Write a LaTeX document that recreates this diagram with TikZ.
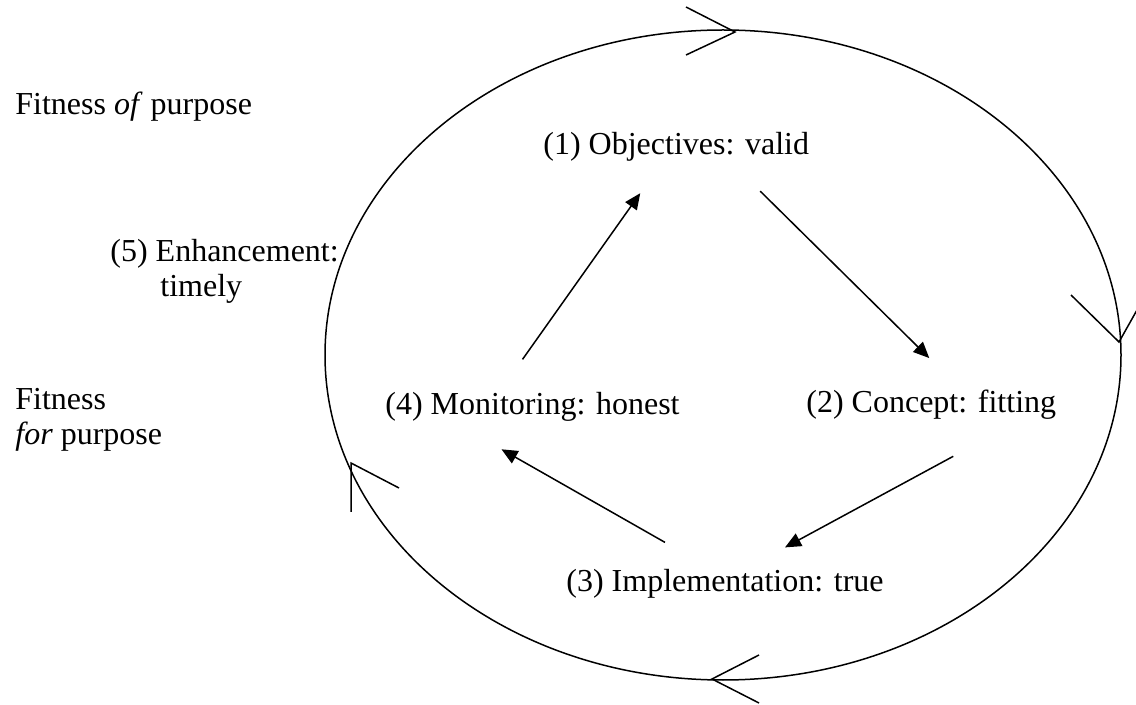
\documentclass[tikz,border=0pt]{standalone}
\usepackage{fontspec}
\setmainfont{Liberation Serif}
\usetikzlibrary{arrows.meta}

\begin{document}
\begin{tikzpicture}
[x=0.5pt,y=-0.5pt,
 lbl/.style={inner sep=0pt,anchor=base west,font=\fontsize{16}{17.5}\selectfont},
 flow/.style={-{Triangle[length=8pt,width=7pt]},line width=0.75pt},
 barb/.style={line width=0.75pt}]
\useasboundingbox (0,0) rectangle (1136,705);
\draw[line width=0.75pt] (723,355) ellipse [x radius=398,y radius=325];
% direction marks on the cycle
\coordinate (cw1) at (735,32);
\coordinate (cw2) at (1119,342);
\coordinate (cw3) at (712,679);
\coordinate (cw4) at (351,463);
\draw[barb] (cw1) ++(-49,-25) -- (cw1) -- ++(-49,23);
\draw[barb] (cw2) ++(-48,-47) -- (cw2) -- ++(27,-48);
\draw[barb] (cw3) ++(47,-24) -- (cw3) -- ++(47,24);
\draw[barb] (cw4) ++(0,49) -- (cw4) -- ++(48,25);
% labels (two-line ones sit on their last baseline)
\node[lbl] (fop) at (15,115) {Fitness \textit{of} purpose};
\node[lbl,align=left] (enh) at (110,297) {(5) Enhancement:\\\hspace*{25pt}timely};
\node[lbl,align=left] (ffp) at (15,445) {Fitness\\\textit{for} purpose};
\node[lbl] (obj) at (543,155) {(1) Objectives: valid};
\node[lbl] (con) at (806,413) {(2) Concept: fitting};
\node[lbl] (imp) at (566,592) {(3) Implementation: true};
\node[lbl] (mon) at (385,415) {(4) Monitoring: honest};
\draw[flow] ([shift={(-10,-33)}]mon.north) -- ([shift={(-36,31)}]obj.south);
\draw[flow] ([shift={(84,29)}]obj.south) -- ([shift={(-2,-32)}]con.north);
\draw[flow] ([shift={(22,36)}]con.south) -- ([shift={(60,-22)}]imp.north);
\draw[flow] ([shift={(-60,-27)}]imp.north) -- ([shift={(-31,27)}]mon.south);
\end{tikzpicture}
\end{document}
